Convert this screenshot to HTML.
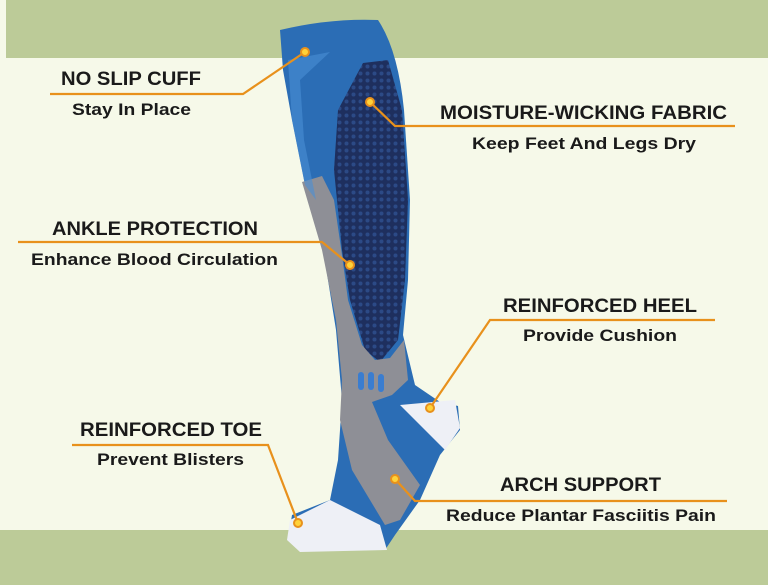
<!DOCTYPE html>
<html><head><meta charset="utf-8"><style>
html,body{margin:0;padding:0;width:768px;height:585px;overflow:hidden;background:#f6f9e9}
svg{display:block}
text{font-family:"Liberation Sans Narrow","Liberation Sans",sans-serif;font-weight:bold;fill:#1a1a1a}
</style></head><body>
<svg width="768" height="585" viewBox="0 0 768 585" xmlns="http://www.w3.org/2000/svg">
<defs>
<pattern id="mesh" width="7" height="7" patternUnits="userSpaceOnUse">
<rect width="7" height="7" fill="#1e2f5e"/>
<circle cx="3.5" cy="3.5" r="2" fill="#2c4a86"/>
</pattern>
</defs>
<rect x="0" y="0" width="768" height="585" fill="#f6f9e9"/>
<rect x="0" y="0" width="768" height="58" fill="#bccb98"/>
<rect x="0" y="0" width="6" height="58" fill="#f6f9e9"/>
<rect x="0" y="530" width="768" height="55" fill="#bccb98"/>

<!-- sock -->
<path d="M280,30 Q330,18 378,20 Q398,50 404,110 L410,200 L408,280 L403,335 L415,385 L440,402 L458,406 L460,430 L440,455 L420,500 L395,535 L385,550 L300,550 L288,540 L292,515 L330,500 L338,460 L342,400 L336,330 L324,255 L305,185 L292,120 L283,70 Z" fill="#2b6db5"/>
<path d="M363,63 L388,60 L402,110 L408,200 L405,280 L398,340 L380,362 L365,350 L350,300 L342,250 L334,170 L338,110 Z" fill="url(#mesh)"/>
<path d="M302,182 L322,176 L334,200 L342,255 L348,300 L362,345 L375,360 L390,358 L404,340 L408,380 L392,395 L372,402 L388,440 L420,485 L400,520 L385,525 L352,470 L340,420 L342,380 L336,320 L322,250 Z" fill="#8e8f96"/>
<path d="M288,60 L330,52 L300,80 L304,140 L316,200 L305,185 L292,120 Z" fill="#4a8fd6" opacity="0.6"/>
<path d="M400,405 L455,400 L460,428 L445,450 L430,435 Z" fill="#eef0f6"/>
<path d="M290,520 L330,500 L380,525 L387,550 L300,552 L287,540 Z" fill="#eef0f6"/>
<rect x="358" y="372" width="6" height="18" rx="3" fill="#3a7dd0"/>
<rect x="368" y="372" width="6" height="18" rx="3" fill="#3a7dd0"/>
<rect x="378" y="374" width="6" height="18" rx="3" fill="#3a7dd0"/>

<!-- connectors -->
<g stroke="#e8911c" stroke-width="2.2" fill="none">
<polyline points="50,94 243,94 305,52"/>
<polyline points="370,102 395,126 735,126"/>
<polyline points="18,242 322,242 350,265"/>
<polyline points="715,320 490,320 430,408"/>
<polyline points="72,445 268,445 298,523"/>
<polyline points="395,479 415,501 727,501"/>
</g>
<g fill="#ffd23a" stroke="#e8911c" stroke-width="2">
<circle cx="305" cy="52" r="4"/>
<circle cx="370" cy="102" r="4"/>
<circle cx="350" cy="265" r="4"/>
<circle cx="430" cy="408" r="4"/>
<circle cx="298" cy="523" r="4"/>
<circle cx="395" cy="479" r="4"/>
</g>

<!-- labels -->
<g font-size="19">
<text x="61" y="85" textLength="140" lengthAdjust="spacingAndGlyphs">NO SLIP CUFF</text>
<text x="440" y="119" textLength="287" lengthAdjust="spacingAndGlyphs">MOISTURE-WICKING FABRIC</text>
<text x="52" y="235" textLength="206" lengthAdjust="spacingAndGlyphs">ANKLE PROTECTION</text>
<text x="503" y="312" textLength="194" lengthAdjust="spacingAndGlyphs">REINFORCED HEEL</text>
<text x="80" y="436" textLength="182" lengthAdjust="spacingAndGlyphs">REINFORCED TOE</text>
<text x="500" y="491" textLength="161" lengthAdjust="spacingAndGlyphs">ARCH SUPPORT</text>
</g>
<g font-size="17">
<text x="72" y="115" textLength="119" lengthAdjust="spacingAndGlyphs" fill="#222">Stay In Place</text>
<text x="472" y="149" textLength="224" lengthAdjust="spacingAndGlyphs" fill="#222">Keep Feet And Legs Dry</text>
<text x="31" y="265" textLength="247" lengthAdjust="spacingAndGlyphs" fill="#222">Enhance Blood Circulation</text>
<text x="523" y="341" textLength="154" lengthAdjust="spacingAndGlyphs" fill="#222">Provide Cushion</text>
<text x="97" y="465" textLength="147" lengthAdjust="spacingAndGlyphs" fill="#222">Prevent Blisters</text>
<text x="446" y="521" textLength="270" lengthAdjust="spacingAndGlyphs" fill="#222">Reduce Plantar Fasciitis Pain</text>
</g>
</svg>
</body></html>
